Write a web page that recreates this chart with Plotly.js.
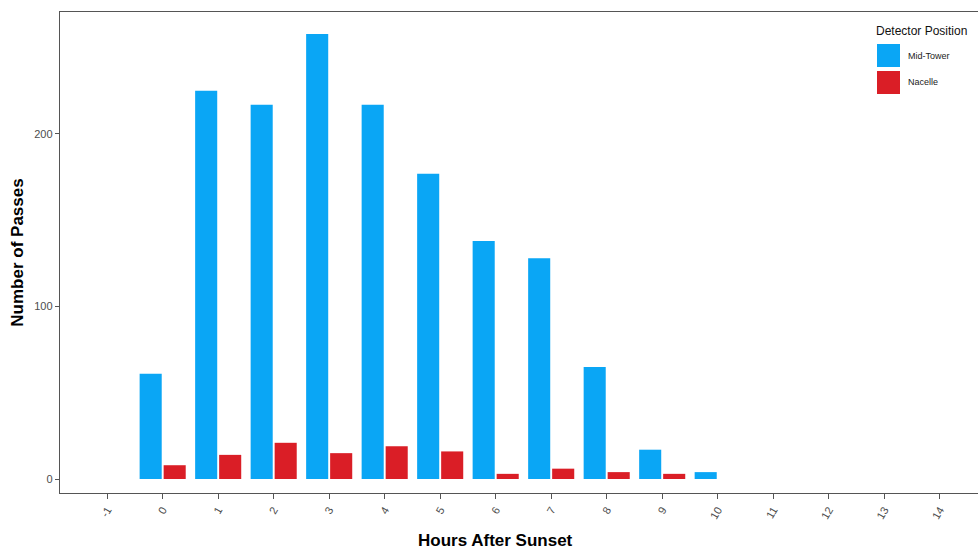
<!DOCTYPE html>
<html>
<head>
<meta charset="utf-8">
<script src="https://cdn.plot.ly/plotly-3.0.1.min.js"></script>
<style>html,body{margin:0;padding:0;background:#fff;}#chart{width:978px;height:550px;}</style>
</head>
<body>
<div id="chart"></div>
<script>
// Data
const hours = [-1, 0, 1, 2, 3, 4, 5, 6, 7, 8, 9, 10, 11, 12, 13, 14];
const tickLabels = ["-1","0","1","2","3","4","5","6","7","8","9","10","11","12","13","14"];
const midTower = [0, 61, 225, 217, 258, 217, 177, 138, 128, 65, 17, 4, 0, 0, 0, 0];
const nacelle  = [0, 8, 14, 21, 15, 19, 16, 3, 6, 4, 3, 0, 0, 0, 0, 0];
const seriesNames = ["Mid-Tower", "Nacelle"];
const seriesColors = ["#0AA6F5", "#DA1E26"];
const legendTitle = "Detector Position";
const xTitle = "Hours After Sunset";
const yTitle = "Number of Passes";

const W = 978, H = 550;
const M = {l: 60, r: 0, t: 12, b: 57};
const plotW = W - M.l - M.r, plotH = H - M.t - M.b;
const px = x => (x - M.l) / plotW;
const py = y => (H - M.b - y) / plotH;

const traces = [
  {type: 'bar', x: hours, y: midTower, name: seriesNames[0], marker: {color: seriesColors[0]}, showlegend: false},
  {type: 'bar', x: hours, y: nacelle, name: seriesNames[1], marker: {color: seriesColors[1]}, showlegend: false}
];

const font = "Liberation Sans, Arial, sans-serif";

// custom legend (keys drawn as shapes)
const shapes = [];
const annotations = [];
const keyTop = [44, 71];
seriesNames.forEach((n, i) => {
  shapes.push({type: 'rect', xref: 'paper', yref: 'paper', x0: px(877), x1: px(900), y0: py(keyTop[i] + 23), y1: py(keyTop[i]),
    fillcolor: seriesColors[i], line: {width: 0}});
  annotations.push({xref: 'paper', yref: 'paper', x: px(906), y: py(keyTop[i] + 11.5), xanchor: 'left', yanchor: 'middle',
    text: n, showarrow: false, font: {family: font, size: 9, color: '#222'}});
});
annotations.push({xref: 'paper', yref: 'paper', x: px(874), y: py(31), xanchor: 'left', yanchor: 'middle',
  text: legendTitle, showarrow: false, font: {family: font, size: 12, color: '#111'}});
annotations.push({xref: 'paper', yref: 'paper', x: px(495), y: py(540), xanchor: 'center', yanchor: 'middle',
  text: '<b>' + xTitle + '</b>', showarrow: false, font: {family: font, size: 17, color: '#000'}});

const layout = {
  width: W, height: H,
  margin: M,
  paper_bgcolor: '#fff', plot_bgcolor: '#fff',
  font: {family: font},
  barmode: 'group', bargap: 0.135, bargroupgap: 0.08,
  showlegend: false,
  xaxis: {
    range: [-1.85, 14.69], tickvals: hours, ticktext: tickLabels, tickangle: -60,
    showgrid: false, zeroline: false, showline: true, linecolor: '#555', linewidth: 1.2, mirror: true,
    ticks: 'outside', ticklen: 5, tickcolor: '#555', tickfont: {family: font, size: 11, color: '#4d4d4d'}
  },
  yaxis: {
    range: [-8.1, 270.7], tickvals: [0, 100, 200],
    showgrid: false, zeroline: false, showline: true, linecolor: '#555', linewidth: 1.2,
    ticks: 'outside', ticklen: 4, tickcolor: '#555', tickfont: {family: font, size: 11, color: '#4d4d4d'},
    title: {text: '<b>' + yTitle + '</b>', font: {family: font, size: 17, color: '#000'}, standoff: 6}
  },
  shapes: shapes,
  annotations: annotations
};

Plotly.newPlot('chart', traces, layout, {displayModeBar: false, staticPlot: true});
</script>
</body>
</html>
